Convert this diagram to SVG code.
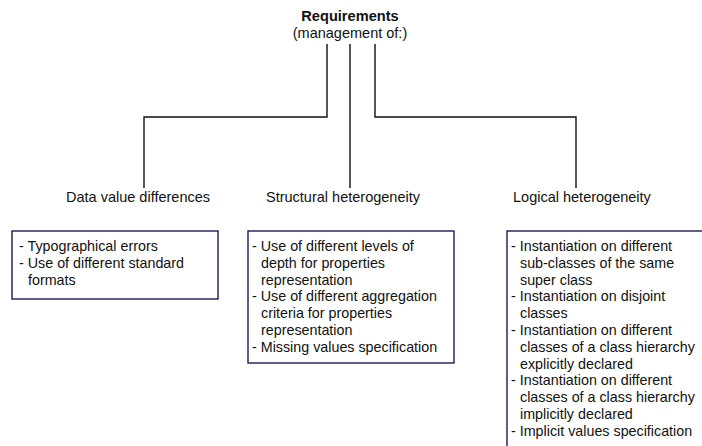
<svg xmlns="http://www.w3.org/2000/svg" width="702" height="446" viewBox="0 0 702 446">
<style>
text{font-family:"Liberation Sans",Arial,Helvetica,sans-serif;fill:#111;}
.t{font-size:14.6px;font-weight:bold;}
.s{font-size:14.5px;}
.lbl{font-size:14.5px;}
.bx{font-size:14.3px;}
.box{fill:#fff;stroke:#1a1a55;stroke-width:1.4;}
.c{fill:none;stroke:#111;stroke-width:1.4;}
</style>
<rect width="702" height="446" fill="#fff"/>
<g id="requirements">
<text class="t" x="350" y="21" text-anchor="middle">Requirements</text>
<text class="s" x="350" y="38" text-anchor="middle">(management of:)</text>
</g>
<g id="connectors">
<polyline class="c" points="327,44 327,117 144,117 144,188"/>
<line class="c" x1="350" y1="44" x2="350" y2="188"/>
<polyline class="c" points="375,44 375,117 576,117 576,188"/>
</g>
<g id="data-value">
<text class="lbl" x="66" y="202">Data value differences</text>
<rect class="box" x="12" y="231" width="206" height="68"/>
<text class="bx" x="19" y="251">- Typographical errors</text>
<text class="bx" x="19" y="267.8">- Use of different standard</text>
<text class="bx" x="28" y="284.6">formats</text>
</g>
<g id="structural">
<text class="lbl" x="266" y="202">Structural heterogeneity</text>
<rect class="box" x="248" y="231" width="206" height="132"/>
<text class="bx" x="252" y="251">- Use of different levels of</text>
<text class="bx" x="261" y="267.8">depth for properties</text>
<text class="bx" x="261" y="284.6">representation</text>
<text class="bx" x="252" y="301.4">- Use of different aggregation</text>
<text class="bx" x="261" y="318.2">criteria for properties</text>
<text class="bx" x="261" y="335">representation</text>
<text class="bx" x="252" y="351.8">- Missing values specification</text>
</g>
<g id="logical">
<text class="lbl" x="513" y="202">Logical heterogeneity</text>
<rect class="box" x="507" y="231" width="210" height="230"/>
<text class="bx" x="511" y="251">- Instantiation on different</text>
<text class="bx" x="520" y="267.8">sub-classes of the same</text>
<text class="bx" x="520" y="284.6">super class</text>
<text class="bx" x="511" y="301.4">- Instantiation on disjoint</text>
<text class="bx" x="520" y="318.2">classes</text>
<text class="bx" x="511" y="335">- Instantiation on different</text>
<text class="bx" x="520" y="351.8">classes of a class hierarchy</text>
<text class="bx" x="520" y="368.6">explicitly declared</text>
<text class="bx" x="511" y="385.4">- Instantiation on different</text>
<text class="bx" x="520" y="402.2">classes of a class hierarchy</text>
<text class="bx" x="520" y="419">implicitly declared</text>
<text class="bx" x="511" y="435.8">- Implicit values specification</text>
</g>
</svg>
